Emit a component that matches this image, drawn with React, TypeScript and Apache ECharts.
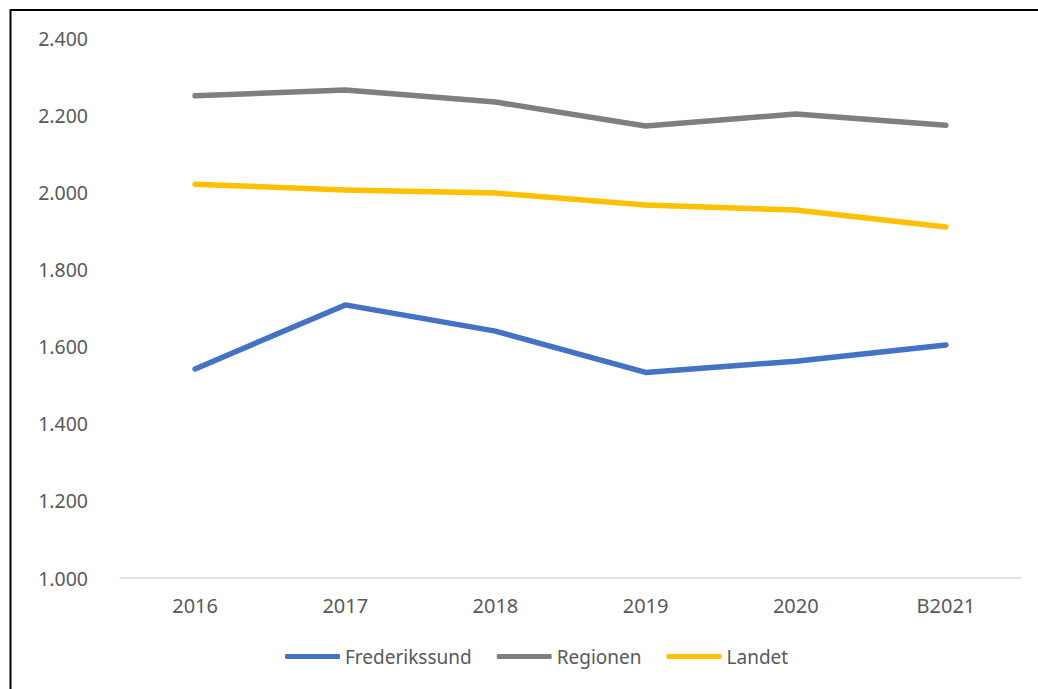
import React, { useEffect, useRef } from "react";
import * as echarts from "echarts";

const categories = ["2016", "2017", "2018", "2019", "2020", "B2021"];
const frederikssund = [1542, 1708, 1640, 1533, 1562, 1604];
const regionen = [2250, 2265, 2234, 2172, 2203, 2174];
const landet = [2021, 2006, 1998, 1967, 1954, 1910];
const yTicks = { min: 1000, max: 2400, interval: 200 };

const FONT = "'Noto Sans', sans-serif";

function fmt(v: number): string {
  const s = Math.round(v).toString();
  return s.replace(/\B(?=(\d{3})+(?!\d))/g, ".");
}

export default function App() {
  const ref = useRef<HTMLDivElement>(null);
  useEffect(() => {
    if (!ref.current) return;
    const chart = echarts.init(ref.current, null, { renderer: "svg" });
    const mk = (name: string, data: number[], color: string) => ({
      name,
      type: "line",
      data,
      showSymbol: false,
      symbol: "none",
      lineStyle: { width: 5.5, color, cap: "round", join: "round" },
      itemStyle: { color },
    });
    chart.setOption({
      animation: false,
      backgroundColor: "#ffffff",
      textStyle: { fontFamily: FONT },
      grid: { left: 120, right: 17, top: 38, bottom: 111, containLabel: false },
      graphic: [
        {
          type: "rect",
          shape: { x: 10.5, y: 10, width: 1100, height: 800 },
          style: { fill: "none", stroke: "#000000", lineWidth: 2 },
          silent: true,
        },
      ],
      xAxis: {
        type: "category",
        data: categories,
        boundaryGap: true,
        axisLine: { show: true, lineStyle: { color: "#D9D9D9", width: 1.5 } },
        axisTick: { show: false },
        axisLabel: {
          color: "#595959",
          fontSize: 20,
          fontFamily: FONT,
          margin: 17,
        },
        splitLine: { show: false },
      },
      yAxis: {
        type: "value",
        min: yTicks.min,
        max: yTicks.max,
        interval: yTicks.interval,
        axisLine: { show: false },
        axisTick: { show: false },
        splitLine: { show: false },
        axisLabel: {
          color: "#595959",
          fontSize: 19.5,
          fontFamily: FONT,
          margin: 32,
          formatter: (v: number) => fmt(v),
        },
      },
      legend: {
        bottom: 18,
        left: 280,
        itemWidth: 55,
        itemHeight: 5,
        itemGap: 25,
        icon: "roundRect",
        textStyle: { color: "#595959", fontSize: 19, fontFamily: FONT },
        data: ["Frederikssund", "Regionen", "Landet"],
      },
      series: [
        mk("Frederikssund", frederikssund, "#4472C4"),
        mk("Regionen", regionen, "#7F7F7F"),
        mk("Landet", landet, "#FFC000"),
      ],
    });
    return () => chart.dispose();
  }, []);
  return (
    <div
      ref={ref}
      style={{ position: "fixed", left: 0, top: 0, width: 1038, height: 689 }}
    />
  );
}
